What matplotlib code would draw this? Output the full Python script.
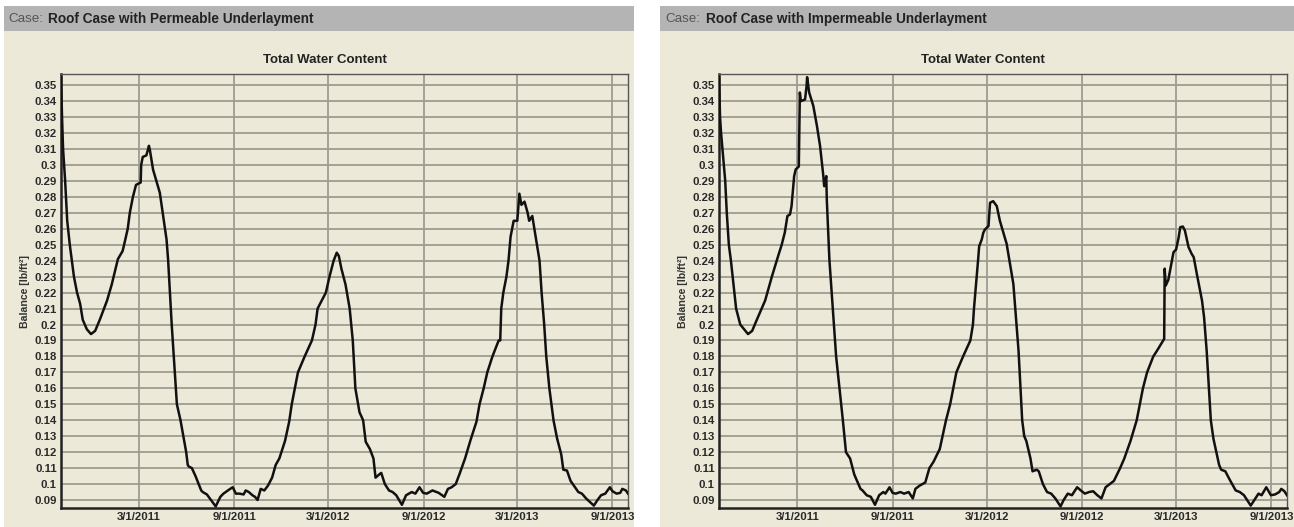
import matplotlib
matplotlib.use('Agg')
import matplotlib.pyplot as plt
import numpy as np
from matplotlib.patches import Rectangle

plt.rcParams['font.family'] = ['Liberation Sans', 'DejaVu Sans']

start = np.datetime64('2010-10-01')
end = np.datetime64('2013-10-01')

# days after 2010-10-01
perm_days = [0, 2, 4, 8, 12, 17, 25, 31, 37, 42, 50, 58, 66, 75, 89, 98, 110, 119, 122, 129,
             133, 139, 145, 154, 155, 158, 165, 170, 172, 178, 191, 204, 207, 214, 224, 231,
             242, 245, 247, 253, 260, 271, 274, 282, 299, 308, 314, 327, 332, 338, 345, 353,
             357, 363, 370, 375, 380, 386, 393, 400, 408, 415, 422, 433, 441, 446, 458, 471,
             485, 492, 496, 504, 512, 519, 527, 533, 537, 542, 550, 558, 564, 569, 577, 584,
             589, 597, 604, 608, 615, 619, 626, 634, 641, 648, 659, 667, 678, 685, 693, 700,
             707, 718, 730, 741, 748, 755, 763, 770, 781, 792, 803, 809, 817, 824, 834, 846,
             849, 851, 855, 861, 865, 869, 875, 882, 886, 890, 896, 902, 905, 911, 915, 925,
             929, 934, 938, 944, 952, 959, 967, 971, 978, 985, 1000, 1007, 1015, 1030, 1037,
             1044, 1052, 1061, 1066, 1074, 1081, 1085, 1092, 1096]
perm_vals = [0.355, 0.33, 0.31, 0.29, 0.265, 0.25, 0.23, 0.22, 0.213, 0.203, 0.197, 0.194, 0.196,
             0.203, 0.215, 0.225, 0.241, 0.246, 0.25, 0.26, 0.27, 0.28, 0.2875, 0.289, 0.300,
             0.305, 0.306, 0.312, 0.309, 0.297, 0.2826, 0.2533, 0.2407, 0.2, 0.15, 0.14, 0.12,
             0.112, 0.111, 0.110, 0.105, 0.096, 0.095, 0.0935, 0.086, 0.092, 0.094, 0.097, 0.098,
             0.094, 0.094, 0.0935, 0.096, 0.095, 0.093, 0.092, 0.090, 0.097, 0.096, 0.099, 0.104,
             0.112, 0.116, 0.127, 0.139, 0.15, 0.17, 0.18, 0.19, 0.2, 0.21, 0.215, 0.22, 0.23,
             0.24, 0.245, 0.243, 0.235, 0.225, 0.21, 0.19, 0.16, 0.145, 0.14, 0.1265, 0.122,
             0.116, 0.104, 0.106, 0.107, 0.1, 0.096, 0.095, 0.093, 0.087, 0.093, 0.095, 0.094,
             0.098, 0.0945, 0.094, 0.096, 0.0945, 0.092, 0.097, 0.098, 0.1, 0.106, 0.116, 0.128,
             0.139, 0.15, 0.16, 0.17, 0.18, 0.19, 0.19, 0.21, 0.22, 0.23, 0.24, 0.255, 0.265,
             0.265, 0.282, 0.275, 0.277, 0.27, 0.265, 0.268, 0.26, 0.24, 0.22, 0.2, 0.18, 0.16,
             0.14, 0.1285, 0.1185, 0.109, 0.1085, 0.102, 0.095, 0.094, 0.091, 0.0865, 0.09,
             0.093, 0.094, 0.098, 0.0955, 0.094, 0.0945, 0.097, 0.096, 0.094]

imp_days = [0, 2, 4, 12, 15, 19, 23, 33, 41, 56, 64, 73, 89, 102, 114, 121, 127, 132, 137, 140,
            145, 148, 154, 156, 158, 166, 169, 170, 174, 182, 189, 195, 201, 203, 207, 208, 213,
            226, 239, 245, 249, 253, 261, 273, 277, 285, 293, 301, 309, 317, 321, 329, 335, 341,
            350, 357, 366, 374, 379, 387, 398, 406, 414, 426, 438, 446, 458, 471, 485, 490, 492,
            496, 500, 502, 507, 510, 513, 520, 523, 529, 536, 542, 555, 568, 575, 578, 585, 589,
            593, 601, 605, 613, 617, 625, 633, 641, 649, 659, 665, 673, 681, 691, 700, 706, 714,
            722, 730, 738, 746, 754, 762, 774, 782, 794, 806, 812, 818, 826, 838, 845, 859, 860,
            862, 867, 874, 877, 882, 887, 890, 895, 899, 906, 912, 916, 922, 932, 936, 941, 949,
            954, 961, 965, 969, 977, 985, 997, 1005, 1013, 1026, 1033, 1041, 1047, 1056, 1065,
            1073, 1081, 1085, 1091, 1096]
imp_vals = [0.355, 0.33, 0.32, 0.29, 0.27, 0.25, 0.24, 0.21, 0.2, 0.194, 0.196, 0.203, 0.215,
            0.23, 0.2428, 0.25, 0.2577, 0.268, 0.269, 0.2742, 0.293, 0.2972, 0.299, 0.3454,
            0.34, 0.341, 0.3496, 0.355, 0.3454, 0.337, 0.3244, 0.3119, 0.2941, 0.2867, 0.293,
            0.2784, 0.2407, 0.18, 0.14, 0.12, 0.118, 0.116, 0.106, 0.097, 0.096, 0.093, 0.092,
            0.087, 0.093, 0.095, 0.094, 0.098, 0.0945, 0.094, 0.095, 0.094, 0.095, 0.091, 0.097,
            0.099, 0.101, 0.11, 0.114, 0.122, 0.14, 0.15, 0.17, 0.18, 0.19, 0.2, 0.21, 0.225,
            0.2407, 0.249, 0.2533, 0.2575, 0.2595, 0.2617, 0.2763, 0.2773, 0.2742, 0.265, 0.2506,
            0.2254, 0.1961, 0.1835, 0.14, 0.13, 0.127, 0.116, 0.108, 0.109, 0.108, 0.1, 0.095,
            0.094, 0.091, 0.086, 0.09, 0.094, 0.093, 0.098, 0.0955, 0.094, 0.095, 0.0955, 0.093,
            0.091, 0.098, 0.1, 0.102, 0.11, 0.116, 0.127, 0.14, 0.15, 0.16, 0.17, 0.18, 0.1835,
            0.191, 0.235, 0.2244, 0.228, 0.2401, 0.2453, 0.247, 0.2547, 0.261, 0.2614, 0.2589,
            0.2485, 0.2443, 0.2422, 0.2317, 0.215, 0.2045, 0.1835, 0.14, 0.1285, 0.118, 0.112,
            0.109, 0.108, 0.103, 0.096, 0.095, 0.093, 0.0865, 0.09, 0.094, 0.093, 0.098, 0.093,
            0.0935, 0.095, 0.097, 0.0955, 0.093]

y_ticks = [0.09, 0.10, 0.11, 0.12, 0.13, 0.14, 0.15, 0.16, 0.17, 0.18, 0.19, 0.20, 0.21, 0.22,
           0.23, 0.24, 0.25, 0.26, 0.27, 0.28, 0.29, 0.30, 0.31, 0.32, 0.33, 0.34, 0.35]
x_ticks = ['2011-03-01', '2011-09-01', '2012-03-01', '2012-09-01', '2013-03-01', '2013-09-01']
x_labels = ['3/1/2011', '9/1/2011', '3/1/2012', '9/1/2012', '3/1/2013', '9/1/2013']
cases = ['Roof Case with Permeable Underlayment', 'Roof Case with Impermeable Underlayment']

W, H = 1294, 527
beige = '#ECE9D8'
fig = plt.figure(figsize=(W / 100, H / 100), dpi=100)
fig.patch.set_facecolor('white')

def px(x0, y0, w, h):
    return [x0 / W, 1 - (y0 + h) / H, w / W, h / H]

panels = [
    dict(box=(4, 630), hx=8, tx=48, title_x=325, ax=px(61, 74, 567, 434), days=perm_days, vals=perm_vals),
    dict(box=(660, 634), hx=665, tx=706, title_x=983, ax=px(719, 74, 568, 434), days=imp_days, vals=imp_vals),
]

for case, p in zip(cases, panels):
    bx, bw = p['box']
    fig.patches.append(Rectangle((bx / W, 1 - 31 / H), bw / W, 25 / H, transform=fig.transFigure,
                                 facecolor='#B4B4B4', edgecolor='none', zorder=-2))
    fig.patches.append(Rectangle((bx / W, 0), bw / W, 1 - 31 / H, transform=fig.transFigure,
                                 facecolor=beige, edgecolor='none', zorder=-2))
    fig.text(p['hx'] / W, 1 - 19 / H, 'Case:', fontsize=9.6, color='#555555', va='center')
    fig.text(p['tx'] / W, 1 - 19 / H, case, fontsize=9.8, fontweight='bold', color='#222222', va='center')
    fig.text(p['title_x'] / W, 1 - 60 / H, 'Total Water Content', fontsize=9.5, fontweight='bold',
             color='#222222', ha='center', va='center')

    ax = fig.add_axes(p['ax'])
    ax.set_facecolor(beige)
    dates = start + np.array(p['days'], dtype='timedelta64[D]')
    ax.plot(dates, p['vals'], color='#111111', lw=1.8, zorder=3)
    ax.set_xlim(start, end)
    ax.set_ylim(0.085, 0.357)
    ax.set_yticks(y_ticks)
    ax.set_yticklabels(['%g' % v for v in y_ticks])
    ax.set_xticks(np.array(x_ticks, dtype='datetime64[D]'))
    ax.set_xticklabels(x_labels)
    ax.grid(True, color='#9e9c91', lw=1.3)
    ax.set_axisbelow(True)
    ax.tick_params(length=0, pad=3, colors='#2a2a2a')
    for lab in ax.get_xticklabels() + ax.get_yticklabels():
        lab.set_family(['Liberation Sans Narrow', 'Liberation Sans'])
        lab.set_fontweight('bold')
        lab.set_fontsize(8.2)
    ax.set_ylabel('Balance [lb/ft²]', fontsize=7.6, fontweight='bold', color='#333333', labelpad=3,
                  family=['Liberation Sans Narrow', 'Liberation Sans'])
    for side in ['left', 'bottom']:
        ax.spines[side].set_color('#222222')
        ax.spines[side].set_linewidth(1.8)
    for side in ['top', 'right']:
        ax.spines[side].set_color('#555555')
        ax.spines[side].set_linewidth(1.0)

plt.savefig('out.png', dpi=100, facecolor=fig.get_facecolor())
